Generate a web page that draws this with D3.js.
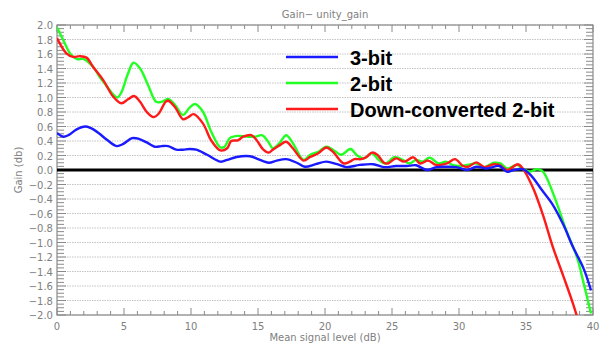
<!DOCTYPE html>
<html>
<head>
<meta charset="utf-8">
<script src="https://cdn.jsdelivr.net/npm/d3@7"></script>
<style>
  body { margin: 0; background: #fff; }
  svg { display: block; }
</style>
</head>
<body>
<div id="chart"></div>
<script>
// gain curves, [signal level dB, gain dB]
const bit3 = [[0,0.51],[0.45,0.46],[0.85,0.48],[1.47,0.56],[2.1,0.60],[2.5,0.58],[3.1,0.51],[3.7,0.42],[4.45,0.33],[4.95,0.36],[5.6,0.44],[6.1,0.43],[6.7,0.38],[7.3,0.32],[7.8,0.33],[8.3,0.33],[8.9,0.28],[9.4,0.28],[9.9,0.29],[10.4,0.28],[11.2,0.21],[12.2,0.115],[12.7,0.14],[13.4,0.18],[14.4,0.19],[15.0,0.15],[15.8,0.10],[16.4,0.13],[17.1,0.15],[17.9,0.10],[18.5,0.045],[19.3,0.08],[20.1,0.115],[20.9,0.08],[21.6,0.04],[22.6,0.07],[23.6,0.08],[24.4,0.04],[25.3,0.055],[26.1,0.055],[26.8,0.065],[27.6,0.0],[28.3,0.04],[29.1,0.045],[29.8,0.04],[30.6,0.0],[31.3,0.045],[32.1,0.02],[33.0,0.055],[33.6,-0.025],[34.1,0.0],[34.8,0.01],[35.4,-0.08],[36.2,-0.28],[37.0,-0.48],[37.8,-0.76],[38.5,-1.06],[39.3,-1.36],[39.85,-1.66]];
const bit2 = [[0,1.97],[0.5,1.78],[1.0,1.60],[1.5,1.53],[2.0,1.53],[2.7,1.42],[3.2,1.28],[3.7,1.16],[4.2,1.04],[4.5,1.0],[4.8,1.07],[5.3,1.33],[5.7,1.48],[6.2,1.40],[6.8,1.17],[7.4,0.94],[7.8,0.94],[8.3,0.98],[8.8,0.90],[9.4,0.76],[9.9,0.86],[10.3,0.91],[10.9,0.80],[11.5,0.53],[12.2,0.31],[12.5,0.32],[12.9,0.44],[13.5,0.47],[14.2,0.46],[14.8,0.46],[15.3,0.48],[15.8,0.38],[16.1,0.30],[16.6,0.37],[17.1,0.48],[17.6,0.37],[18.4,0.14],[18.9,0.21],[19.5,0.25],[20.1,0.32],[20.6,0.28],[21.2,0.21],[21.9,0.29],[22.4,0.20],[22.9,0.16],[23.5,0.23],[24.0,0.14],[24.5,0.09],[25.2,0.175],[25.9,0.13],[26.3,0.09],[26.8,0.14],[27.3,0.115],[27.8,0.17],[28.5,0.09],[29.0,0.115],[29.5,0.07],[30.1,0.055],[30.6,0.07],[31.3,0.09],[31.9,0.04],[32.6,0.10],[33.1,0.09],[33.6,0.02],[34.3,0.07],[34.8,0.01],[35.3,-0.02],[35.8,0.01],[36.2,-0.01],[36.5,-0.09],[37.3,-0.46],[38.0,-0.83],[38.8,-1.20],[39.3,-1.56],[39.85,-1.98]];
const downConv2 = [[0,1.82],[0.7,1.61],[1.2,1.56],[1.7,1.57],[2.2,1.55],[2.7,1.42],[3.45,1.24],[4.2,1.01],[4.8,0.92],[5.3,0.975],[5.75,1.02],[6.2,0.94],[6.7,0.80],[7.2,0.73],[7.6,0.78],[8.1,0.94],[8.3,0.955],[8.8,0.87],[9.4,0.70],[9.8,0.73],[10.2,0.77],[10.9,0.64],[11.5,0.41],[12.2,0.27],[12.7,0.30],[13.0,0.40],[13.5,0.41],[13.9,0.46],[14.5,0.48],[14.9,0.41],[15.4,0.28],[15.8,0.24],[16.1,0.28],[16.6,0.34],[17.1,0.39],[17.6,0.30],[18.4,0.13],[18.9,0.18],[19.5,0.23],[20.1,0.31],[20.6,0.25],[21.4,0.09],[21.9,0.12],[22.2,0.15],[22.7,0.15],[23.1,0.18],[23.5,0.24],[23.9,0.21],[24.4,0.10],[24.7,0.09],[25.3,0.16],[25.9,0.115],[26.6,0.175],[27.1,0.09],[27.7,0.13],[28.3,0.07],[29.1,0.09],[29.7,0.15],[30.3,0.055],[30.7,0.045],[31.3,0.105],[31.9,0.04],[32.6,0.08],[33.0,0.07],[33.6,0.0],[34.4,0.08],[34.8,0.01],[35.2,-0.12],[35.6,-0.28],[36.3,-0.64],[37.0,-1.06],[37.8,-1.47],[38.5,-1.84],[39.1,-2.2]];

const seriesNames = ["3-bit", "2-bit", "Down-converted 2-bit"];
const seriesColors = ["#1a1aff", "#22ff22", "#ff1a1a"];
const xTicks = [0, 5, 10, 15, 20, 25, 30, 35, 40];
const yTicks = d3.range(-2, 2.01, 0.2);

let width = 601,
    height = 344;
let margin = {top: 25, right: 8, bottom: 29, left: 57};

let svg = d3.select("#chart").append("svg")
  .attr("width", width)
  .attr("height", height);

var x = d3.scaleLinear().domain([0, 40]).range([margin.left, width - margin.right]);
var y = d3.scaleLinear().domain([-2, 2]).range([height - margin.bottom, margin.top]);

const axisColor = "#8a8a8a";
const labelFont = "DejaVu Sans, sans-serif";
const labelColor = "#808080";

// dotted horizontal grid
svg.append("g")
  .selectAll("line")
  .data(yTicks)
  .enter().append("line")
  .attr("x1", x(0)).attr("x2", x(40))
  .attr("y1", d => y(d)).attr("y2", d => y(d))
  .attr("stroke", "#c4c4c4")
  .attr("stroke-width", 1)
  .attr("stroke-dasharray", "1.5,1");

// frame
svg.append("rect")
  .attr("x", x(0)).attr("y", y(2))
  .attr("width", x(40) - x(0)).attr("height", y(-2) - y(2))
  .attr("fill", "none")
  .attr("stroke", axisColor)
  .attr("stroke-width", 1.2);

// tick marks pointing inward on all four sides
let xMinor = d3.range(0, 40.01, 1);
let yMinor = d3.range(-2, 2.001, 0.05);
let ticks = svg.append("g").attr("stroke", axisColor).attr("stroke-width", 1);
xMinor.forEach(v => {
  let len = (Math.round(v) % 5 === 0) ? 7 : 4;
  ticks.append("line").attr("x1", x(v)).attr("x2", x(v)).attr("y1", y(-2)).attr("y2", y(-2) - len);
  ticks.append("line").attr("x1", x(v)).attr("x2", x(v)).attr("y1", y(2)).attr("y2", y(2) + len);
});
yMinor.forEach(v => {
  let major = Math.abs(Math.round(v * 5) - v * 5) < 1e-6;
  let len = major ? 9 : 7;
  ticks.append("line").attr("x1", x(0)).attr("x2", x(0) + len).attr("y1", y(v)).attr("y2", y(v));
  ticks.append("line").attr("x1", x(40)).attr("x2", x(40) - len).attr("y1", y(v)).attr("y2", y(v));
});

// tick labels
svg.append("g")
  .selectAll("text")
  .data(xTicks)
  .enter().append("text")
  .attr("x", d => x(d))
  .attr("y", y(-2) + 15)
  .attr("text-anchor", "middle")
  .style("font-family", labelFont)
  .style("font-size", "10px")
  .attr("fill", labelColor)
  .text(d => d);

const yFmt = d3.format(".1f");
svg.append("g")
  .selectAll("text")
  .data(yTicks)
  .enter().append("text")
  .attr("x", x(0) - 4)
  .attr("y", d => y(d) + 4)
  .attr("text-anchor", "end")
  .style("font-family", labelFont)
  .style("font-size", "10px")
  .attr("fill", labelColor)
  .text(d => yFmt(Math.abs(d) < 1e-9 ? 0 : d));

// titles
svg.append("text")
  .attr("x", (x(0) + x(40)) / 2).attr("y", 18)
  .attr("text-anchor", "middle")
  .style("font-family", labelFont).style("font-size", "10px")
  .attr("fill", labelColor)
  .text("Gain\u2212 unity_gain");
svg.append("text")
  .attr("x", (x(0) + x(40)) / 2).attr("y", 341)
  .attr("text-anchor", "middle")
  .style("font-family", labelFont).style("font-size", "10px")
  .attr("fill", labelColor)
  .text("Mean signal level (dB)");
svg.append("text")
  .attr("transform", "translate(22," + y(0) + ") rotate(-90)")
  .attr("text-anchor", "middle")
  .style("font-family", labelFont).style("font-size", "10px")
  .attr("fill", labelColor)
  .text("Gain (db)");

// zero line
svg.append("line")
  .attr("x1", x(0)).attr("x2", x(40))
  .attr("y1", y(0)).attr("y2", y(0))
  .attr("stroke", "#000")
  .attr("stroke-width", 3);

// curves
svg.append("defs").append("clipPath").attr("id", "plotClip")
  .append("rect")
  .attr("x", x(0)).attr("y", y(2))
  .attr("width", x(40) - x(0)).attr("height", y(-2) - y(2));

var line = d3.line()
  .x(d => x(d[0]))
  .y(d => y(d[1]))
  .curve(d3.curveCatmullRom.alpha(0.5));

let allSeries = [bit3, bit2, downConv2];
// draw order: green under red, blue on top of both
[1, 2, 0].forEach(i => {
  svg.append("path")
    .attr("clip-path", "url(#plotClip)")
    .attr("d", line(allSeries[i]))
    .attr("fill", "none")
    .attr("stroke", seriesColors[i])
    .attr("stroke-width", 2.4)
    .attr("stroke-linejoin", "round");
});

// legend
let legend = svg.append("g");
seriesNames.forEach((name, i) => {
  let ly = 57 + i * 26;
  legend.append("line")
    .attr("x1", 286).attr("x2", 338)
    .attr("y1", ly).attr("y2", ly)
    .attr("stroke", seriesColors[i])
    .attr("stroke-width", 2.5);
  legend.append("text")
    .attr("x", 350).attr("y", ly + 8)
    .style("font-family", "Liberation Sans, Arial, sans-serif")
    .style("font-weight", "bold")
    .style("font-size", "20px")
    .attr("fill", "#000")
    .text(name);
});
</script>
</body>
</html>
